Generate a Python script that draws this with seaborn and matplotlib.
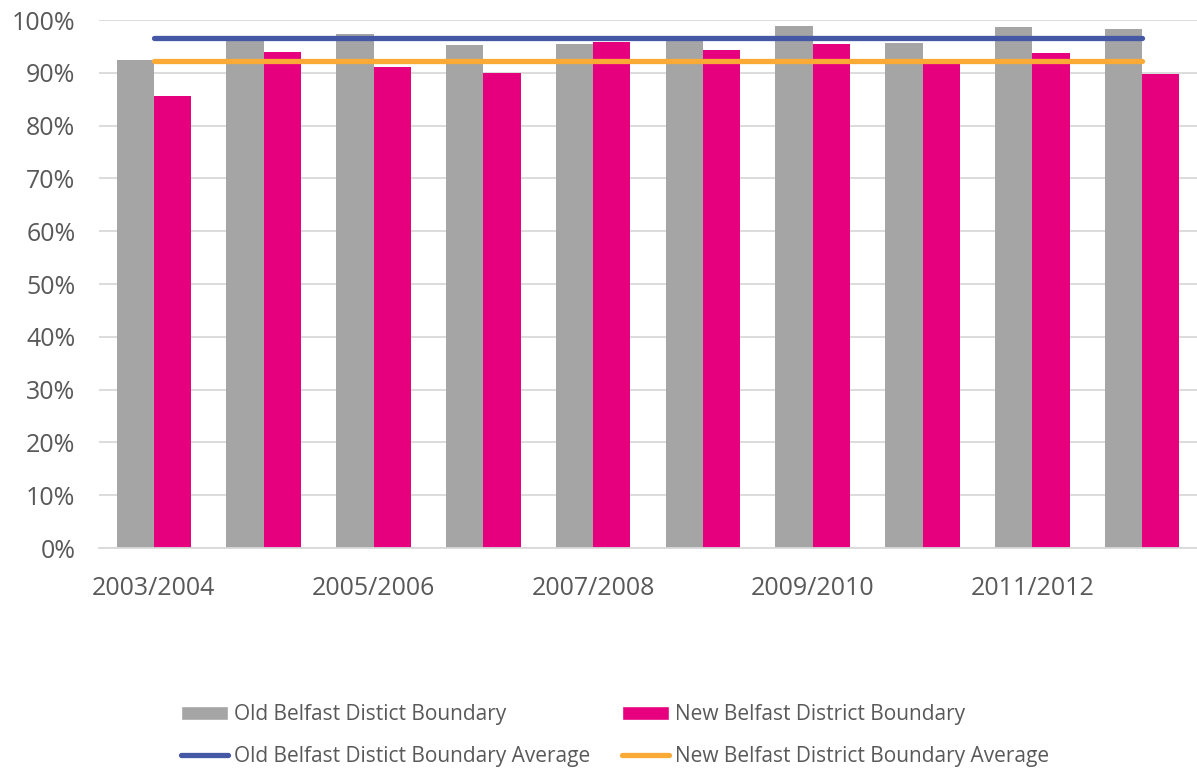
import matplotlib
matplotlib.use("Agg")
import matplotlib.pyplot as plt
import seaborn as sns
import pandas as pd
import numpy as np
from matplotlib.patches import Patch
from matplotlib.lines import Line2D

years = ["2003/2004", "2004/2005", "2005/2006", "2006/2007", "2007/2008",
         "2008/2009", "2009/2010", "2010/2011", "2011/2012", "2012/2013"]
old_boundary = [92.4, 96.4, 97.3, 95.3, 95.4, 96.3, 98.9, 95.6, 98.7, 98.3]
new_boundary = [85.6, 93.9, 91.1, 89.9, 95.8, 94.3, 95.4, 91.9, 93.7, 89.8]
old_avg = 96.6
new_avg = 92.2
series_names = ["Old Belfast Distict Boundary", "New Belfast District Boundary"]
line_names = ["Old Belfast Distict Boundary Average", "New Belfast District Boundary Average"]

sns.set_theme(style="white")
plt.rcParams["font.family"] = ["Open Sans", "DejaVu Sans"]

TEXT = "#595959"
GRID = "#d9d9d9"
GRAY = "#a5a5a5"
MAGENTA = "#e6007e"
BLUE = "#4458a5"
ORANGE = "#fbaa36"

df = pd.DataFrame({
    "year": years * 2,
    "value": old_boundary + new_boundary,
    "series": [series_names[0]] * len(years) + [series_names[1]] * len(years),
})

fig = plt.figure(figsize=(11.97, 7.70), dpi=100)
ax = fig.add_axes([99 / 1197, 1 - 548 / 770, 1 - 99 / 1197, (548 - 20) / 770])

sns.barplot(data=df, x="year", y="value", hue="series", order=years,
            hue_order=series_names, palette=[GRAY, MAGENTA], width=0.68,
            saturation=1, ax=ax, legend=False, zorder=2, linewidth=0,
            edgecolor="none")

xs = np.arange(len(years))
ax.plot(xs, [old_avg] * len(years), color=BLUE, lw=3.8, solid_capstyle="round", zorder=3)
ax.plot(xs, [new_avg] * len(years), color=ORANGE, lw=3.8, solid_capstyle="round", zorder=3)

ax.set_xlim(-0.5, 9.5)
ax.set_ylim(0, 100)
ax.set_yticks(np.arange(0, 101, 10))
ax.set_yticklabels([f"{v}%" for v in range(0, 101, 10)])
ax.set_xticks(xs[::2])
ax.set_xticklabels(years[::2])
ax.set_xlabel("")
ax.set_ylabel("")
ax.yaxis.grid(True, color=GRID, lw=1.3, zorder=0)
ax.set_axisbelow(True)
for s in ["top", "right", "left"]:
    ax.spines[s].set_visible(False)
ax.spines["bottom"].set_color(GRID)
ax.spines["bottom"].set_linewidth(1.3)
ax.tick_params(axis="y", length=0, pad=17, labelsize=18, labelcolor=TEXT)
ax.tick_params(axis="x", length=0, pad=20, labelsize=18, labelcolor=TEXT)

handles = [
    Patch(facecolor=GRAY, label=series_names[0]),
    Line2D([], [], color=BLUE, lw=3.8, solid_capstyle="round", label=line_names[0]),
    Patch(facecolor=MAGENTA, label=series_names[1]),
    Line2D([], [], color=ORANGE, lw=3.8, solid_capstyle="round", label=line_names[1]),
]
leg = fig.legend(handles=handles, ncol=2, loc="center", bbox_to_anchor=(0.514, 0.045),
                 frameon=False, fontsize=15, handlelength=2.25, handleheight=0.67,
                 handletextpad=0.3, columnspacing=1.5, labelspacing=1.0,
                 labelcolor=TEXT)

fig.savefig("out.png", dpi=100)
